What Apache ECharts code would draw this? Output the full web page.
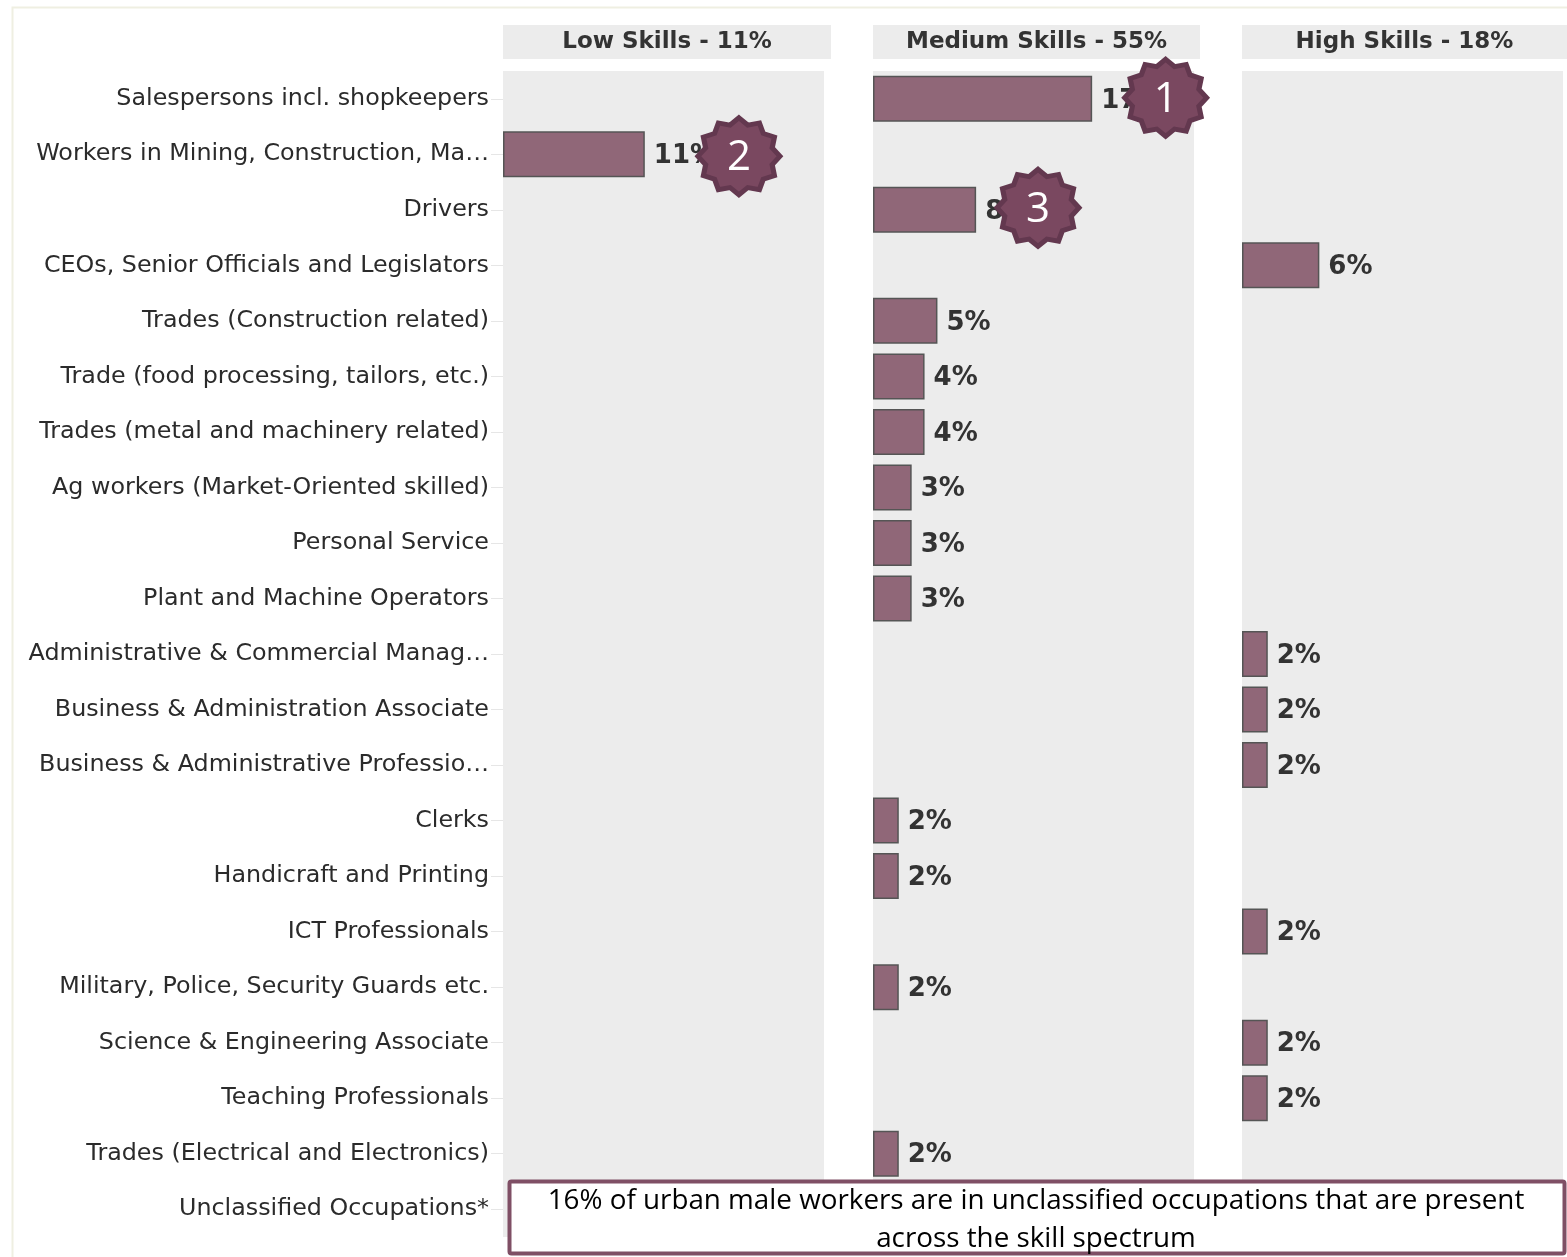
<!DOCTYPE html>
<html>
<head>
<meta charset="utf-8">
<title>Urban male workers by occupation and skill level</title>
<style>html,body{margin:0;padding:0;background:#fff}#chart{width:1567px;height:1257px}</style>
<script src="https://cdn.jsdelivr.net/npm/echarts@6/dist/echarts.min.js"></script>
</head>
<body>
<div id="chart"></div>
<script>
const categories = [
  'Salespersons incl. shopkeepers',
  'Workers in Mining, Construction, Ma…',
  'Drivers',
  'CEOs, Senior Officials and Legislators',
  'Trades (Construction related)',
  'Trade (food processing, tailors, etc.)',
  'Trades (metal and machinery related)',
  'Ag workers (Market-Oriented skilled)',
  'Personal Service',
  'Plant and Machine Operators',
  'Administrative & Commercial Manag…',
  'Business & Administration Associate',
  'Business & Administrative Professio…',
  'Clerks',
  'Handicraft and Printing',
  'ICT Professionals',
  'Military, Police, Security Guards etc.',
  'Science & Engineering Associate',
  'Teaching Professionals',
  'Trades (Electrical and Electronics)',
  'Unclassified Occupations*'
];
const lowSkills = [null, 11, null, null, null, null, null, null, null, null, null, null, null, null, null, null, null, null, null, null, null];
const mediumSkills = [17, null, 8, null, 5, 4, 4, 3, 3, 3, null, null, null, 2, 2, null, 2, null, null, 2, null];
const highSkills = [null, null, null, 6, null, null, null, null, null, null, 2, 2, 2, null, null, 2, null, 2, 2, null, null];
const panelTitles = ['Low Skills - 11%', 'Medium Skills - 55%', 'High Skills - 18%'];
const rankBadges = [
  { panel: 1, rank: '1', x: 22.7, row: 0, dy: -1 },
  { panel: 0, rank: '2', x: 18.3, row: 1, dy: 2 },
  { panel: 1, rank: '3', x: 12.8, row: 2, dy: -2 }
];
const calloutLines = '16% of urban male workers are in unclassified occupations that are present\nacross the skill spectrum';

const panelLefts = [503, 873, 1242];
const panelWidth = 321;
const headerWidths = [328, 327, 325];
const LABEL_FONT = '"DejaVu Sans", sans-serif';

// Twelve-pointed seal used behind the rank numbers
function sealPath() {
  const pts = [];
  for (let i = 0; i < 24; i++) {
    const r = i % 2 === 0 ? 50 : 42;
    const a = (i * Math.PI) / 12 - Math.PI / 2;
    pts.push((50 + r * Math.cos(a)).toFixed(2) + ' ' + (50 + r * Math.sin(a)).toFixed(2));
  }
  return 'path://M' + pts.join('L') + 'Z';
}

const grids = panelLefts.map(left => ({
  left, width: panelWidth, top: 71, height: 1166,
  show: true, backgroundColor: '#ececec', borderWidth: 0
}));
const xAxes = panelLefts.map((_, i) => ({
  type: 'value', gridIndex: i, min: 0, max: 24.9, show: false
}));
const yAxes = panelLefts.map((_, i) => ({
  type: 'category', gridIndex: i, data: categories, inverse: true,
  show: i === 0,
  axisLine: { show: false },
  axisTick: { show: i === 0, length: 12, alignWithLabel: true, lineStyle: { color: '#e6e6e6', width: 1 } },
  splitLine: { show: false },
  axisLabel: {
    show: i === 0, margin: 14, fontFamily: LABEL_FONT, fontSize: 23.8, color: '#2b2b2b',
    interval: 0, padding: [9, 0, 0, 0]
  }
}));

const barSeries = [lowSkills, mediumSkills, highSkills].map((values, i) => ({
  type: 'bar', xAxisIndex: i, yAxisIndex: i, data: values,
  barWidth: 46,
  itemStyle: { color: '#906778', borderColor: '#555', borderWidth: 1.5 },
  label: {
    show: true, position: 'right', distance: 9, formatter: '{c}%', offset: [0, 2],
    fontFamily: LABEL_FONT, fontWeight: 'bold', fontSize: 26, color: '#333'
  },
  silent: true
}));

const badgeSeries = panelLefts.map((_, i) => ({
  type: 'scatter', xAxisIndex: i, yAxisIndex: i, z: 6, clip: false, silent: true,
  symbol: sealPath(), symbolSize: [82, 77],
  itemStyle: { color: '#7a4860', borderColor: '#63384f', borderWidth: 5, opacity: 1 },
  label: {
    show: true, position: 'inside', formatter: p => p.data.rank, offset: [0, 2],
    fontFamily: '"Open Sans", sans-serif', fontSize: 42, color: '#fff'
  },
  data: rankBadges.filter(b => b.panel === i).map(b => ({
    value: [b.x, categories[b.row]], rank: b.rank, symbolOffset: [0, b.dy]
  }))
}));

const headerGraphics = panelTitles.map((title, i) => ({
  type: 'group', left: panelLefts[i], top: 25, children: [
    { type: 'rect', shape: { x: 0, y: 0, width: headerWidths[i], height: 34 }, style: { fill: '#ececec' } },
    { type: 'text', x: headerWidths[i] / 2, y: 17, style: {
      text: title, align: 'center', verticalAlign: 'middle',
      font: 'bold 23px ' + LABEL_FONT, fill: '#333'
    } }
  ]
}));

const chart = echarts.init(document.getElementById('chart'), null, { renderer: 'canvas' });
chart.setOption({
  animation: false,
  backgroundColor: '#fff',
  grid: grids,
  xAxis: xAxes,
  yAxis: yAxes,
  series: barSeries.concat(badgeSeries),
  graphic: [
    { type: 'rect', z: -1, shape: { x: 12.5, y: 7.5, width: 1700, height: 1400 }, style: { fill: 'none', stroke: '#efefe2', lineWidth: 2 } },
    ...headerGraphics,
    { type: 'rect', z: 20, shape: { x: 509.5, y: 1181.5, width: 1055, height: 72, r: 2 }, style: { fill: '#fff', stroke: '#7f4f65', lineWidth: 4 } },
    { type: 'text', z: 21, x: 1036, y: 1220, style: {
      text: calloutLines, align: 'center', verticalAlign: 'middle', lineHeight: 38,
      font: '27.8px "Open Sans", sans-serif', fill: '#000'
    } }
  ]
});
</script>
</body>
</html>
